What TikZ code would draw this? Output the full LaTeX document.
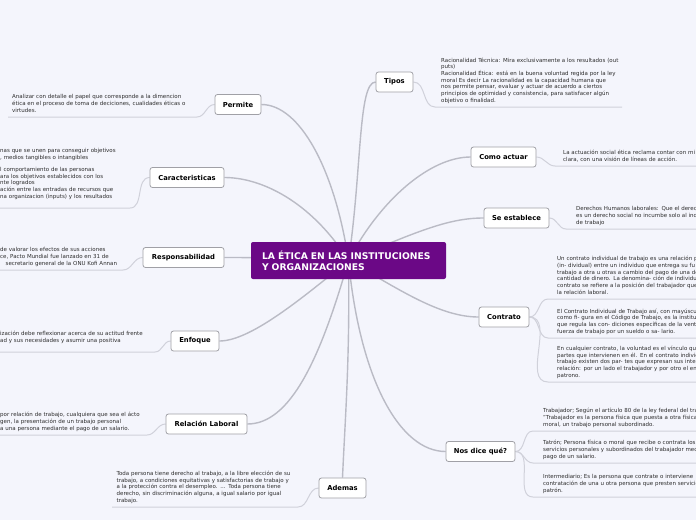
\documentclass[tikz,border=0pt]{standalone}
\usepackage{fontspec}
\setmainfont{DejaVu Sans}
\usetikzlibrary{backgrounds}
\definecolor{fondo}{RGB}{244,245,252}
\definecolor{morado}{RGB}{107,8,134}
\definecolor{colrama}{RGB}{186,187,197}
\definecolor{colhoja}{RGB}{208,209,218}
\definecolor{borde}{RGB}{160,160,166}
\definecolor{texto}{RGB}{45,45,45}
\tikzset{
  central/.style={fill=morado, text=white, rounded corners=2pt, align=left,
    font=\bfseries\fontsize{9.2}{11}\selectfont, inner xsep=11pt,
    minimum width=195pt, minimum height=37pt, text width=173pt},
  rama/.style={draw=borde, fill=white, line width=0.8pt, rounded corners=2.5pt,
    font=\bfseries\fontsize{6.8}{8}\selectfont, minimum height=20pt, inner xsep=3pt},
  hoja/.style={anchor=south west, align=left, text width=330pt, inner ysep=2.4pt,
    text=texto, font=\fontsize{5.5}{6.7}\selectfont, execute at end node=\strut},
  enlace/.style={draw=colrama, line width=1.4pt},
  linea/.style={draw=colhoja, line width=1pt}
}
\begin{document}
\begin{tikzpicture}[x=1pt,y=-1pt]
  \useasboundingbox (0,0) rectangle (696,520);

  \node[central] (etica) at (348.5,260.5) {LA ÉTICA EN LAS INSTITUCIONES\\Y ORGANIZACIONES};

  \node[rama, minimum width=37pt] (tipos) at (394.5,82) {Tipos};
  \node[rama, minimum width=46pt] (permite) at (238,104.5) {Permite};
  \node[rama, minimum width=74pt] (caract) at (187,177.5) {Caracteristicas};
  \node[rama, minimum width=65pt] (como) at (503.5,157) {Como actuar};
  \node[rama, minimum width=65pt] (establece) at (516.5,218) {Se establece};
  \node[rama, minimum width=81pt] (resp) at (183.5,257.5) {Responsabilidad};
  \node[rama, minimum width=50pt] (contrato) at (504,317) {Contrato};
  \node[rama, minimum width=48pt] (enfoque) at (195,341) {Enfoque};
  \node[rama, minimum width=81pt] (relacion) at (206.5,424) {Relación Laboral};
  \node[rama, minimum width=69pt] (nosdice) at (480.5,451.5) {Nos dice qué?};
  \node[rama, minimum width=47pt] (ademas) at (342.5,488) {Ademas};

  \node[hoja, inner xsep=6pt] (tiposTxt) at (435,107) {Racionalidad Técnica: Mira exclusivamente a los resultados (out\\puts)\\Racionalidad Ética: está en la buena voluntad regida por la ley\\moral Es decir La racionalidad es la capacidad humana que\\nos permite pensar, evaluar y actuar de acuerdo a ciertos\\principios de optimidad y consistencia, para satisfacer algún\\objetivo o finalidad.};
  \node[hoja, inner xsep=4pt] (permiteTxt) at (8,117) {Analizar con detalle el papel que corresponde a la dimencion\\ética en el proceso de toma de deciciones, cualidades éticas o\\virtudes.};
  \node[hoja, inner xsep=4pt, inner ysep=7.4pt] (caractTxt) at (-4,208) {nas que se unen para conseguir objetivos\\, medios tangibles o intangibles\\[5.6pt]l comportamiento de las personas\\ara los objetivos establecidos con los\\nte logrados\\ación entre las entradas de recursos que\\na organizacion (inputs) y los resultados};
  \node[hoja, inner xsep=8pt] (comoTxt) at (555,166) {La actuación social ética reclama contar con mi\\clara, con una visión de líneas de acción.};
  \node[hoja, inner xsep=10pt] (establTxt) at (566,229) {Derechos Humanos laborales: Que el derec\\es un derecho social no incumbe solo al ind\\de trabajo};
  \node[hoja, inner xsep=4pt] (respTxt) at (-4,270) {de valorar los efectos de sus acciones\\ce, Pacto Mundial fue lanzado en 31 de\\\hspace*{5.5pt}secretario general de la ONU Kofi Annan};
  \node[hoja, inner xsep=9pt] (contratoA) at (548,299) {Un contrato individual de trabajo es una relación p\\(in- dividual) entre un individuo que entrega su fu\\trabajo a otra u otras a cambio del pago de una de\\cantidad de dinero. La denomina- ción de individu\\contrato se refiere a la posición del trabajador que\\la relación laboral.};
  \node[hoja, inner xsep=9pt] (contratoB) at (548,338) {El Contrato Individual de Trabajo así, con mayúscu\\como fi- gura en el Código de Trabajo, es la institu\\que regula las con- diciones específicas de la vent\\fuerza de trabajo por un sueldo o sa- lario.};
  \node[hoja, inner xsep=9pt] (contratoC) at (548,382) {En cualquier contrato, la voluntad es el vínculo que\\partes que intervienen en él. En el contrato indivic\\trabajo existen dos par- tes que expresan sus inte\\relación: por un lado el trabajador y por otro el en\\patrono.};
  \node[hoja, inner xsep=4pt, inner ysep=7.4pt] (enfoqueTxt) at (-4,352) {ización debe reflexionar acerca de su actitud frente\\ad y sus necesidades y asumir una positiva};
  \node[hoja, inner xsep=4pt] (relTxt) at (-4,435) {por relación de trabajo, cualquiera que sea el ácto\\gen, la presentación de un trabajo personal\\a una persona mediante el pago de un salario.};
  \node[hoja, inner xsep=10pt] (nosA) at (533,431) {Trabajador; Según el artículo 80 de la ley federal del tra\\"Trabajador es la persona física que puesta a otra física\\moral, un trabajo personal subordinado.};
  \node[hoja, inner xsep=10pt] (nosB) at (533,463) {Tatrón; Persona física o moral que recibe o contrata los\\servicios personales y subordinados del trabajador med\\pago de un salario.};
  \node[hoja, inner xsep=10pt] (nosC) at (533,497) {Intermediario; Es la persona que contrate o interviene\\contratación de una u otra persona que presten servicio\\patrón.};
  \node[hoja, inner xsep=4.5pt] (ademasTxt) at (112,507) {Toda persona tiene derecho al trabajo, a la libre elección de su\\trabajo, a condiciones equitativas y satisfactorias de trabajo y\\a la protección contra el desempleo. ... Toda persona tiene\\derecho, sin discriminación alguna, a igual salario por igual\\trabajo.};

  \begin{scope}[on background layer]
    \fill[fondo] (0,0) rectangle (696,520);
    % ramas principales
    \draw[enlace] (etica.center) .. controls (362,170) and (358,82) .. (tipos.west);
    \draw[enlace] (etica.center) .. controls (335,170) and (300,104.5) .. (permite.east);
    \draw[enlace] (etica.center) .. controls (310,200) and (260,177.5) .. (caract.east);
    \draw[enlace] (etica.center) .. controls (380,200) and (430,157) .. (como.west);
    \draw[enlace] (etica.center) .. controls (420,230) and (450,218) .. (establece.west);
    \draw[enlace] (etica.center) .. controls (300,258) and (260,257.5) .. (resp.east);
    \draw[enlace] (etica.center) .. controls (300,300) and (250,341) .. (enfoque.east);
    \draw[enlace] (etica.center) .. controls (320,360) and (290,424) .. (relacion.east);
    \draw[enlace] (etica.center) .. controls (350,360) and (345,420) .. (ademas.north);
    \draw[enlace] (etica.center) .. controls (360,380) and (400,451.5) .. (nosdice.west);
    \draw[enlace] (etica.center) .. controls (400,290) and (440,317) .. (contrato.west);
    % hojas
    \draw[linea] (tipos.east) to[out=0,in=180] (tiposTxt.south west) -- ++(187,0);
    \draw[linea] (como.east) to[out=0,in=180] (comoTxt.south west) -- ++(160,0);
    \draw[linea] (establece.east) to[out=0,in=180] (establTxt.south west) -- ++(160,0);
    \foreach \h in {contratoA,contratoB,contratoC}
      \draw[linea] (contrato.east) to[out=0,in=180] (\h.south west) -- ++(160,0);
    \foreach \h in {nosA,nosB,nosC}
      \draw[linea] (nosdice.east) to[out=0,in=180] (\h.south west) -- ++(180,0);
    \draw[linea] (permite.west) to[out=180,in=0] ([xshift=189pt]permiteTxt.south west) -- (permiteTxt.south west);
    \draw[linea] (caract.west) to[out=180,in=0] ([xshift=134pt]caractTxt.south west) -- (caractTxt.south west);
    \draw[linea] (resp.west) to[out=180,in=0] ([xshift=127pt]respTxt.south west) -- (respTxt.south west);
    \draw[linea] (enfoque.west) to[out=180,in=0] ([xshift=159pt]enfoqueTxt.south west) -- (enfoqueTxt.south west);
    \draw[linea] (relacion.west) to[out=180,in=0] ([xshift=151pt]relTxt.south west) -- (relTxt.south west);
    \draw[linea] (ademas.west) to[out=180,in=0] ([xshift=186pt]ademasTxt.south west) -- (ademasTxt.south west);
  \end{scope}
\end{tikzpicture}
\end{document}
